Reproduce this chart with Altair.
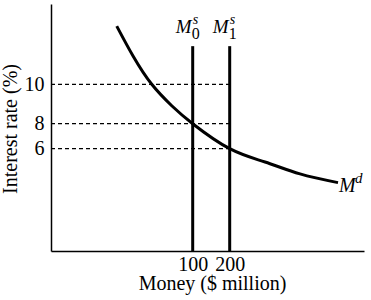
import altair as alt
import pandas as pd

# ---- data ----
money_ticks = [100, 200]
rate_ticks = [6, 8, 10]

supply_money = [100, 200]
supply_sub = ["0", "1"]
supply_top = 11.9

dash_rates = [10, 8, 6]
dash_end = 200

demand_money = [46.4, 57.9, 71.1, 85.4, 100, 200, 252.6, 304.7, 361.3]
demand_rate = [12.90, 11.41, 10.0, 8.90, 8.0, 6.0, 5.22, 4.52, 4.01]

FONT = "Liberation Serif"

xscale = alt.Scale(domain=[0, 100, 200, 400], range=[0, 141.7, 178.7, 313], nice=False, zero=False)
yscale = alt.Scale(domain=[0, 6, 8, 10, 14], range=[247, 144.7, 119.7, 80.3, 0], nice=False, zero=False)

xaxis = alt.Axis(values=money_ticks, title="Money ($ million)", titleX=161, titleY=38.5,
                 titleBaseline="alphabetic", titleAlign="center", labelPadding=3)
yaxis = alt.Axis(values=rate_ticks, title="Interest rate (%)", titleX=-35, titleY=124.5,
                 titleBaseline="alphabetic", titleAlign="center", titleAngle=-90, labelPadding=7)

dash_df = pd.DataFrame({"rate": dash_rates, "start": [0] * len(dash_rates), "end": [dash_end] * len(dash_rates)})
supply_df = pd.DataFrame({"money": supply_money, "bottom": [0] * 2, "top": [supply_top] * 2, "sub": supply_sub})
demand_df = pd.DataFrame({"money": demand_money, "rate": demand_rate})
md_df = demand_df.tail(1)

dashes = alt.Chart(dash_df).mark_rule(strokeDash=[4, 3], strokeWidth=1.3, color="black").encode(
    x=alt.X("start:Q", scale=xscale, axis=xaxis),
    x2="end:Q",
    y=alt.Y("rate:Q", scale=yscale, axis=yaxis),
)

supply = alt.Chart(supply_df).mark_rule(strokeWidth=3, color="black").encode(
    x=alt.X("money:Q", scale=xscale, axis=xaxis),
    y=alt.Y("bottom:Q", scale=yscale, axis=yaxis),
    y2="top:Q",
)

demand = alt.Chart(demand_df).mark_line(strokeWidth=3, color="black", interpolate="natural").encode(
    x=alt.X("money:Q", scale=xscale, axis=xaxis),
    y=alt.Y("rate:Q", scale=yscale, axis=yaxis),
)

enc_s = dict(x=alt.X("money:Q", scale=xscale, axis=xaxis), y=alt.Y("top:Q", scale=yscale, axis=yaxis))

sM = alt.Chart(supply_df).mark_text(text="M", font=FONT, fontSize=19, fontStyle="italic", align="right",
                                    baseline="alphabetic", dx=-1, dy=-12.7, color="black").encode(**enc_s)
sS = alt.Chart(supply_df).mark_text(text="s", font=FONT, fontSize=14, fontStyle="italic", align="left",
                                    baseline="alphabetic", dx=0, dy=-22.5, color="black").encode(**enc_s)
sSub = alt.Chart(supply_df).mark_text(font=FONT, fontSize=16, align="left",
                                      baseline="alphabetic", dx=-1, dy=-7.5, color="black").encode(
    text="sub:N", **enc_s)

enc_d = dict(x=alt.X("money:Q", scale=xscale, axis=xaxis), y=alt.Y("rate:Q", scale=yscale, axis=yaxis))
dM = alt.Chart(md_df).mark_text(text="M", font=FONT, fontSize=20, fontStyle="italic", align="left",
                                baseline="alphabetic", dx=1, dy=9, color="black").encode(**enc_d)
dD = alt.Chart(md_df).mark_text(text="d", font=FONT, fontSize=15, fontStyle="italic", align="left",
                                baseline="alphabetic", dx=17, dy=0.6, color="black").encode(**enc_d)

chart = alt.layer(dashes, supply, demand, sM, sS, sSub, dM, dD).properties(
    width=313, height=247,
    autosize=alt.AutoSizeParams(type="none"),
    padding={"left": 51, "top": 4, "right": 7, "bottom": 49},
    background="white",
).configure_view(stroke=None).configure_axis(
    domainColor="black", domainWidth=1.5, grid=False, ticks=False,
    labelFont=FONT, labelFontSize=20, labelColor="black",
    titleFont=FONT, titleFontSize=20, titleColor="black", titleFontWeight="normal",
)

chart.save("out.html", embed_options={"renderer": "svg", "actions": False})
